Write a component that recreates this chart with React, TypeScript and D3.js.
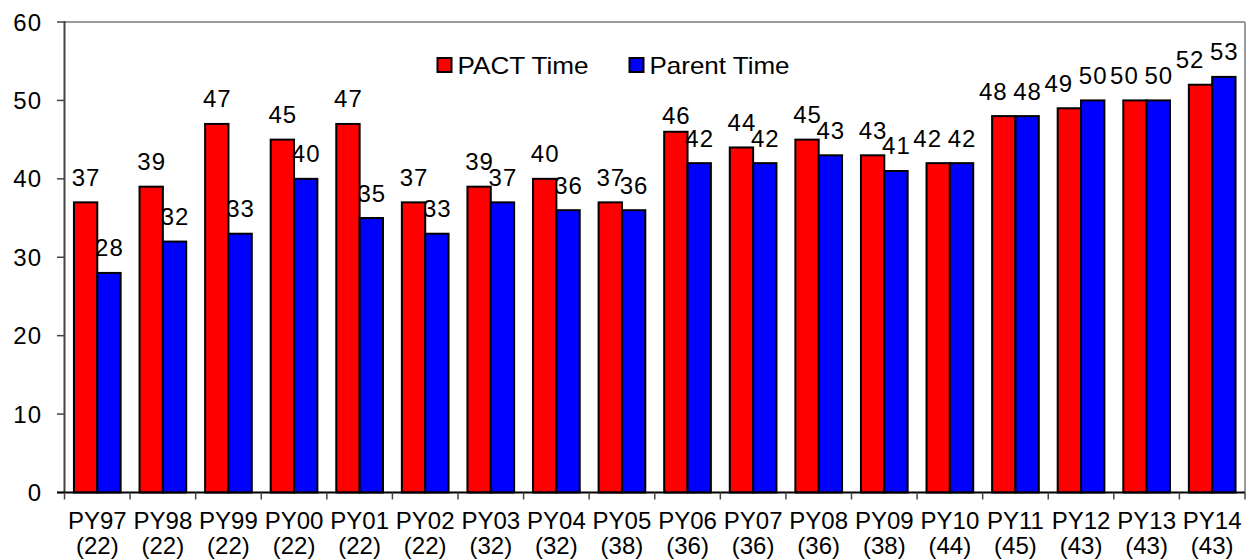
import React from "react";
import * as d3 from "d3";

const years = ["PY97","PY98","PY99","PY00","PY01","PY02","PY03","PY04","PY05","PY06","PY07","PY08","PY09","PY10","PY11","PY12","PY13","PY14"];
const counts = ["(22)","(22)","(22)","(22)","(22)","(22)","(32)","(32)","(38)","(36)","(36)","(36)","(38)","(44)","(45)","(43)","(43)","(43)"];
const pactTime = [37,39,47,45,47,37,39,40,37,46,44,45,43,42,48,49,50,52];
const parentTime = [28,32,33,40,35,33,37,36,36,42,42,43,41,42,48,50,50,53];
const yTicks = [0,10,20,30,40,50,60];
const seriesNames = ["PACT Time","Parent Time"];
const seriesColors = ["#ff0000","#0000ff"];

const W = 1250, H = 560;
const left = 64.5, right = 1245, top = 22, bottom = 492.5;
const FONT = "'Liberation Sans', Arial, sans-serif";
const LS = 1;
// manual label nudge seen in the reference (PY06 PACT label sits lower)
const pactLabelDrop: Record<string, number> = { PY06: 8.5 };
const legendTextLen = [131, 140];

export default function App() {
  const x = d3.scaleBand<string>().domain(years).range([left, right]).padding(0);
  const y = d3.scaleLinear().domain([0, 60]).range([bottom, top]);
  const band = x.bandwidth();
  const barW = band * 0.356;
  const off = (band - 2 * barW) / 2;
  const series = [pactTime, parentTime];

  return (
    <svg width={W} height={H} style={{ position: "absolute", left: 0, top: 0, background: "#fff" }} fontFamily={FONT}>
      <rect x={0} y={0} width={W} height={H} fill="#fff" />
      {/* frame */}
      <line x1={left} x2={right} y1={top} y2={top} stroke="#9a9a9a" strokeWidth={2} />
      <line x1={right} x2={right} y1={top} y2={bottom} stroke="#9a9a9a" strokeWidth={2} />
      {/* y ticks & labels */}
      {yTicks.map((t) => (
        <g key={t}>
          <line x1={57} x2={left} y1={y(t)} y2={y(t)} stroke="#444" strokeWidth={1.5} />
          <text x={42} y={y(t)} dy="0.36em" textAnchor="end" fontSize={24} letterSpacing={LS} fill="#000">{t}</text>
        </g>
      ))}
      {/* bars */}
      {years.map((yr, i) => (
        <g key={yr}>
          {series.map((s, k) => {
            const bx = (x(yr) as number) + off + k * barW;
            return (
              <rect key={k} x={bx} y={y(s[i])} width={barW} height={bottom - y(s[i])}
                fill={seriesColors[k]} stroke="#000" strokeWidth={2} />
            );
          })}
        </g>
      ))}
      {/* labels */}
      {years.map((yr, i) => (
        <g key={"l" + yr}>
          {series.map((s, k) => {
            let cx = (x(yr) as number) + off + k * barW + barW / 2;
            let ly = y(s[i]) - 16.5;
            if (k === 0 && parentTime[i] >= pactTime[i]) cx -= 11;
            if (k === 0 && pactLabelDrop[yr]) ly += pactLabelDrop[yr];
            return (
              <text key={k} x={cx + LS / 2} y={ly} textAnchor="middle" fontSize={24} letterSpacing={LS} fill="#000">{s[i]}</text>
            );
          })}
        </g>
      ))}
      {/* axes */}
      <line x1={left} x2={left} y1={top - 1} y2={bottom} stroke="#444" strokeWidth={2} />
      <line x1={57} x2={right} y1={bottom} y2={bottom} stroke="#000" strokeWidth={2} />
      {[...years.map((yr) => x(yr) as number), right].map((tx, i) => (
        <line key={"t" + i} x1={tx} x2={tx} y1={bottom} y2={499.5} stroke="#444" strokeWidth={1.5} />
      ))}
      {years.map((yr, i) => {
        const cx = (x(yr) as number) + band / 2;
        return (
          <g key={"c" + yr}>
            <text x={cx} y={529} textAnchor="middle" fontSize={24} fill="#000">{yr}</text>
            <text x={cx} y={554} textAnchor="middle" fontSize={24} fill="#000">{counts[i]}</text>
          </g>
        );
      })}
      {/* legend */}
      {seriesNames.map((n, k) => {
        const lx = [437.5, 629.5][k];
        return (
          <g key={n}>
            <rect x={lx} y={58} width={14} height={14} fill={seriesColors[k]} stroke="#000" strokeWidth={2} />
            <text x={lx + 20} y={74} fontSize={24} fill="#000" textLength={legendTextLen[k]} lengthAdjust="spacingAndGlyphs">{n}</text>
          </g>
        );
      })}
    </svg>
  );
}
